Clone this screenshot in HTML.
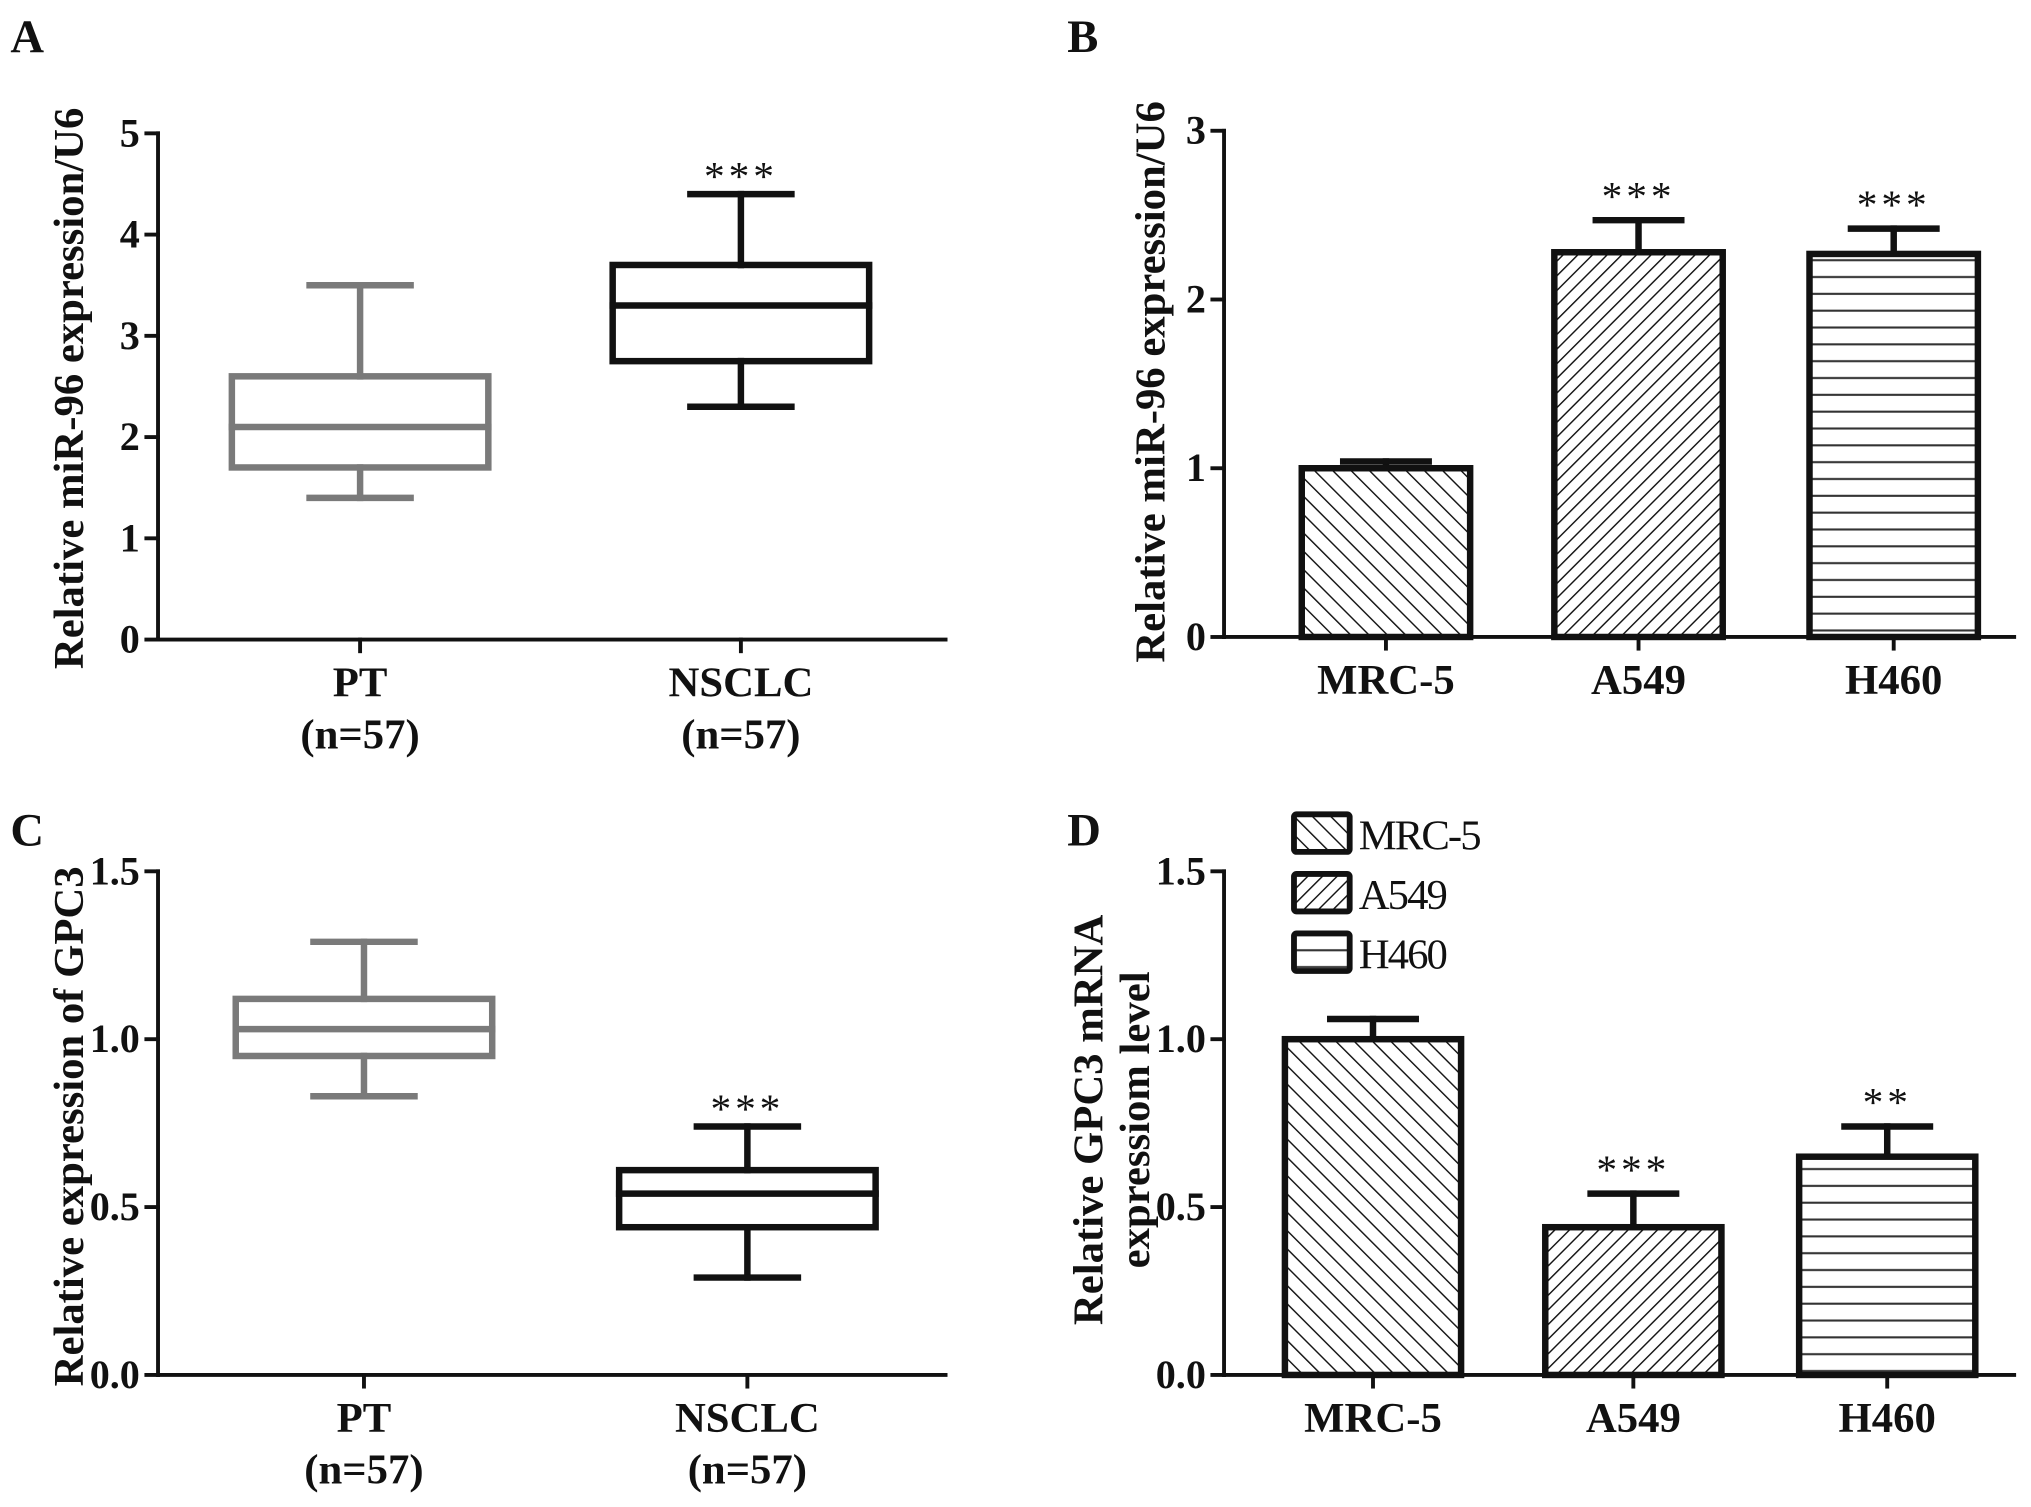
<!DOCTYPE html>
<html><head><meta charset="utf-8"><style>
html,body{margin:0;padding:0;background:#fff;}
svg{display:block;}
text{font-family:"Liberation Serif",serif;font-weight:bold;fill:#111;}
text.norm{font-weight:normal;}
</style></head><body>
<svg id="fig" width="2031" height="1507" viewBox="0 0 1568 1164" preserveAspectRatio="none" xmlns="http://www.w3.org/2000/svg">
<defs>
<pattern id="pMRC" patternUnits="userSpaceOnUse" width="10" height="10" patternTransform="rotate(-45)"><rect width="10" height="10" fill="#fff"/><line x1="0" y1="0" x2="0" y2="10" stroke="#111" stroke-width="2.2"/></pattern>
<pattern id="pA549" patternUnits="userSpaceOnUse" width="8" height="8" patternTransform="rotate(45)"><rect width="8" height="8" fill="#fff"/><line x1="0" y1="0" x2="0" y2="8" stroke="#111" stroke-width="2.2"/></pattern>
<pattern id="pH460" patternUnits="userSpaceOnUse" width="13" height="13"><rect width="13" height="13" fill="#fff"/><line x1="0" y1="6" x2="13" y2="6" stroke="#333" stroke-width="1.6"/></pattern>
</defs>
<g id="root"></g>
</svg>
<script>
// Panel A data
const aCats = ["PT", "NSCLC"];
const aMin = [1.4, 2.3];
const aQ1 = [1.7, 2.75];
const aMed = [2.1, 3.3];
const aQ3 = [2.6, 3.7];
const aMax = [3.5, 4.4];
const aTicks = [0, 1, 2, 3, 4, 5];
const aSig = ["", "***"];
// Panel B data
const bCats = ["MRC-5", "A549", "H460"];
const bVals = [1.0, 2.28, 2.27];
const bErr = [0.04, 0.19, 0.15];
const bTicks = [0, 1, 2, 3];
const bSig = ["", "***", "***"];
// Panel C data
const cCats = ["PT", "NSCLC"];
const cMin = [0.83, 0.29];
const cQ1 = [0.95, 0.44];
const cMed = [1.03, 0.54];
const cQ3 = [1.12, 0.61];
const cMax = [1.29, 0.74];
const cTicks = ["0.0", "0.5", "1.0", "1.5"];
const cSig = ["", "***"];
// Panel D data
const dCats = ["MRC-5", "A549", "H460"];
const dVals = [1.0, 0.44, 0.65];
const dErr = [0.06, 0.10, 0.09];
const dTicks = ["0.0", "0.5", "1.0", "1.5"];
const dSig = ["", "***", "**"];

const NS = "http://www.w3.org/2000/svg";
const root = document.getElementById('root');
function mk(tag, attrs, parent, txt) {
  const e = document.createElementNS(NS, tag);
  for (const k in attrs) e.setAttribute(k, attrs[k]);
  if (txt !== undefined) e.textContent = txt;
  (parent || root).appendChild(e);
  return e;
}
function line(x1, y1, x2, y2, color, w, name, parent) {
  const l = mk('line', {x1, y1, x2, y2, stroke: color, 'stroke-width': w, 'stroke-linecap': 'square'}, parent);
  
  
  return l;
}
function txt(x, y, s, size, anchor, name, parent, extra) {
  const t = mk('text', Object.assign({x, y, 'font-size': size, 'text-anchor': anchor}, extra || {}), parent, s);
  
  
  return t;
}
function axes(g, x0, x1, y0, yTop, vmax, ticks, catX, cats, nlabel) {
  const ys = v => y0 - (v / vmax) * (y0 - yTop);
  line(x0, y0, x0, yTop, '#111', 3, 'y-axis', g);
  line(x0, y0, x1, y0, '#111', 3, 'x-axis', g);
  ticks.forEach(t => {
    const v = parseFloat(t);
    line(x0 - 9, ys(v), x0, ys(v), '#111', 3, 'y-tick', g);
    txt(x0 - 14, ys(v) + 10, String(t), 31, 'end', 'y-tick-label', g);
  });
  catX.forEach((cx, i) => {
    line(cx, y0, cx, y0 + 9, '#111', 3, 'x-tick', g);
    txt(cx, y0 + 44, cats[i], 33, 'middle', 'x-category-label', g);
    if (nlabel) txt(cx, y0 + 84, '(n=57)', 33, 'middle', 'x-category-n-label', g);
  });
  return ys;
}
function boxPanel(name, x0, x1, y0, yTop, vmax, ticks, cats, catX, mn, q1, md, q3, mx, sig, title, titleX, titleY) {
  const g = mk('g', {});
  
  
  const ys = axes(g, x0, x1, y0, yTop, vmax, ticks, catX, cats, true);
  const colors = ['#7a7a7a', '#111'];
  cats.forEach((c, i) => {
    const cx = catX[i], hw = 99, cw = 39, col = colors[i];
    const bg = mk('g', {}, g);
    
    
    line(cx, ys(mx[i]), cx, ys(q3[i]), col, 5, 'whisker-upper', bg);
    line(cx, ys(q1[i]), cx, ys(mn[i]), col, 5, 'whisker-lower', bg);
    line(cx - cw, ys(mx[i]), cx + cw, ys(mx[i]), col, 5, 'cap-max', bg);
    line(cx - cw, ys(mn[i]), cx + cw, ys(mn[i]), col, 5, 'cap-min', bg);
    const r = mk('rect', {x: cx - hw, y: ys(q3[i]), width: 2 * hw, height: ys(q1[i]) - ys(q3[i]), fill: 'none', stroke: col, 'stroke-width': 5}, bg);
    
    
    line(cx - hw, ys(md[i]), cx + hw, ys(md[i]), col, 5, 'median-line', bg);
    if (sig[i]) txt(cx, ys(mx[i]) - 3, sig[i], 32, 'middle', 'significance-marker', bg, {'class': 'norm', 'letter-spacing': '3'});
  });
  txt(0, 0, title, 33, 'middle', 'y-axis-title', g, {transform: `translate(${titleX},${titleY}) rotate(-90)`});
  return g;
}
function barPanel(name, x0, x1, y0, yTop, vmax, ticks, cats, catX, vals, err, sig, pats, hw) {
  const g = mk('g', {});
  
  
  const ys = axes(g, x0, x1, y0, yTop, vmax, ticks, catX, cats, false);
  cats.forEach((c, i) => {
    const cx = catX[i];
    const bg = mk('g', {}, g);
    
    
    const top = ys(vals[i] + err[i]);
    line(cx, top, cx, ys(vals[i]), '#111', 5, 'error-bar', bg);
    line(cx - 33, top, cx + 33, top, '#111', 5, 'error-cap', bg);
    const r = mk('rect', {x: cx - hw, y: ys(vals[i]), width: 2 * hw, height: y0 - ys(vals[i]), fill: `url(#${pats[i]})`, stroke: '#111', 'stroke-width': 5}, bg);
    
    
    if (sig[i]) txt(cx, top - 8, sig[i], 32, 'middle', 'significance-marker', bg, {'class': 'norm', 'letter-spacing': '3'});
  });
  return g;
}
const pats = ['pMRC', 'pA549', 'pH460'];
boxPanel('panel-a', 122, 730, 494, 103, 5, aTicks, aCats, [278, 572], aMin, aQ1, aMed, aQ3, aMax, aSig, 'Relative miR-96 expression/U6', 64, 300);
barPanel('panel-b', 945, 1555, 492, 101, 3, bTicks, bCats, [1070, 1265, 1462], bVals, bErr, bSig, pats, 65);
txt(0, 0, 'Relative miR-96 expression/U6', 33, 'middle', 'y-axis-title', root, {transform: 'translate(899,295) rotate(-90)'});
boxPanel('panel-c', 122, 730, 1062, 673, 1.5, cTicks, cCats, [281, 577], cMin, cQ1, cMed, cQ3, cMax, cSig, 'Relative expression of GPC3', 64, 870);
barPanel('panel-d', 945, 1555, 1062, 673, 1.5, dTicks, dCats, [1060, 1261, 1457], dVals, dErr, dSig, pats, 68);
txt(0, 0, 'Relative GPC3 mRNA', 33, 'middle', 'y-axis-title-line1', root, {transform: 'translate(851,865) rotate(-90)'});
txt(0, 0, 'expressiom level', 33, 'middle', 'y-axis-title-line2', root, {transform: 'translate(887,865) rotate(-90)'});
const leg = mk('g', {});


dCats.forEach((c, i) => {
  const y = 629 + i * 46;
  const r = mk('rect', {x: 999, y, width: 43, height: 29, fill: `url(#${pats[i]})`, stroke: '#111', 'stroke-width': 4.5, rx: 2}, leg);
  
  
  txt(1049, y + 27, c, 33, 'start', 'legend-entry', leg, {'class': 'norm', 'letter-spacing': '-1.5'});
});
[['A', 8, 40], ['B', 824, 40], ['C', 8, 653], ['D', 824, 653]].forEach(p => {
  txt(p[1], p[2], p[0], 36, 'start', 'panel-label-' + p[0].toLowerCase(), root);
});
</script>
</body></html>
